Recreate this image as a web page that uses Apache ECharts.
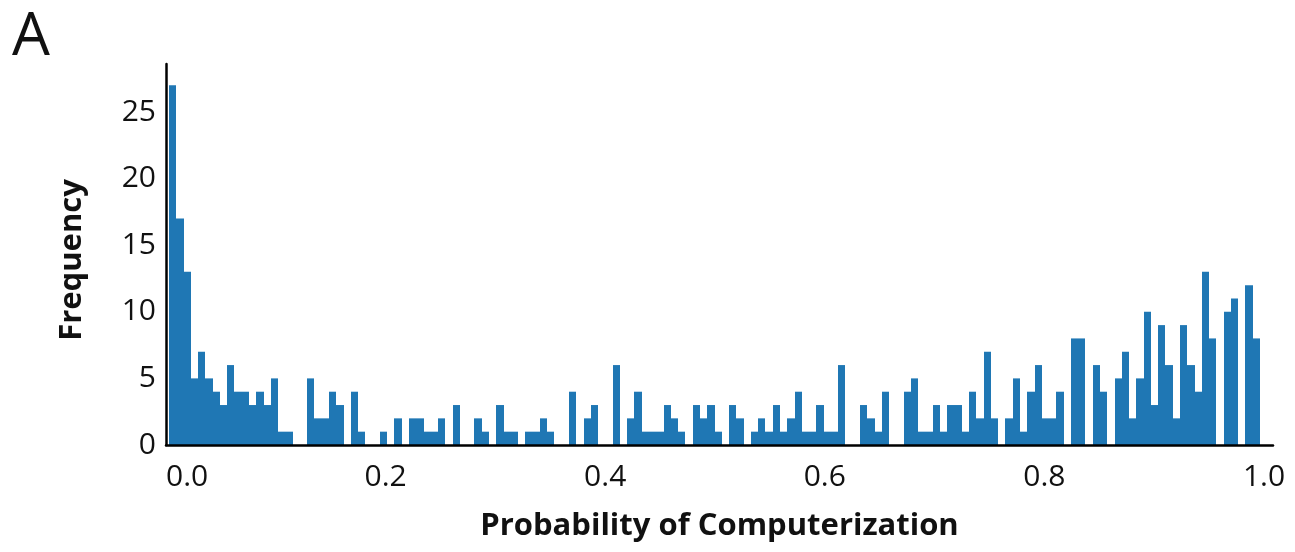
<!DOCTYPE html>
<html><head><meta charset="utf-8">
<script src="https://cdn.jsdelivr.net/npm/echarts@6/dist/echarts.min.js"></script>
<style>html,body{margin:0;padding:0;background:#fff}#c{width:1295px;height:552px}</style>
</head><body><div id="c"></div>
<script>
// Histogram: 150 equal bins between the lowest and highest probability
const binStart = 0.0027;
const binEnd = 0.9964;
const counts = [
  27, 17, 13, 5, 7, 5, 4, 3, 6, 4, 4, 3, 4, 3, 5, 1, 1, 0, 0, 5,
  2, 2, 4, 3, 0, 4, 1, 0, 0, 1, 0, 2, 0, 2, 2, 1, 1, 2, 0, 3,
  0, 0, 2, 1, 0, 3, 1, 1, 0, 1, 1, 2, 1, 0, 0, 4, 0, 2, 3, 0,
  0, 6, 0, 2, 4, 1, 1, 1, 3, 2, 1, 0, 3, 2, 3, 1, 0, 3, 2, 0,
  1, 2, 1, 3, 1, 2, 4, 1, 1, 3, 1, 1, 6, 0, 0, 3, 2, 1, 4, 0,
  0, 4, 5, 1, 1, 3, 1, 3, 3, 1, 4, 2, 7, 2, 0, 2, 5, 1, 4, 6,
  2, 2, 4, 0, 8, 8, 0, 6, 4, 0, 5, 7, 2, 5, 10, 3, 9, 6, 2, 9,
  6, 4, 13, 8, 0, 10, 11, 0, 12, 8
];
const xTickLabels = ['0.0', '0.2', '0.4', '0.6', '0.8', '1.0'];
const yTickLabels = ['0', '5', '10', '15', '20', '25'];
const xAxisTitle = 'Probability of Computerization';
const yAxisTitle = 'Frequency';
const panelLabel = 'A';

const binWidth = (binEnd - binStart) / counts.length;
const bins = counts.map((c, i) => [binStart + i * binWidth, binStart + (i + 1) * binWidth, c]);
const FONT = '"Open Sans", sans-serif';
const TXT = '#111';

const chart = echarts.init(document.getElementById('c'), null, {renderer: 'canvas'});
chart.setOption({
  animation: false,
  backgroundColor: '#fff',
  grid: {left: 166, right: 22, top: 64, bottom: 107},
  xAxis: {
    type: 'value', min: 0, max: 1.0082, interval: 0.2, z: 5,
    axisLine: {show: true, lineStyle: {color: '#000', width: 2.5}},
    axisTick: {show: false}, splitLine: {show: false},
    axisLabel: {
      fontFamily: FONT, fontSize: 30, color: TXT, margin: 17,
      showMaxLabel: false, alignMinLabel: 'left',
      formatter: (v) => xTickLabels[Math.round(v / 0.2)] || ''
    },
    name: xAxisTitle, nameLocation: 'middle', nameGap: 66,
    nameTextStyle: {fontFamily: FONT, fontSize: 31, fontWeight: 'bold', color: TXT}
  },
  yAxis: {
    type: 'value', min: 0, max: 28.6, interval: 5, z: 5,
    axisLine: {show: true, lineStyle: {color: '#000', width: 2.5}},
    axisTick: {show: false}, splitLine: {show: false},
    axisLabel: {
      fontFamily: FONT, fontSize: 30, color: TXT, margin: 10, showMaxLabel: false,
      formatter: (v) => yTickLabels[Math.round(v / 5)] || ''
    },
    name: yAxisTitle, nameLocation: 'middle', nameGap: 78,
    nameTextStyle: {fontFamily: FONT, fontSize: 31, fontWeight: 'bold', color: TXT, padding: [0, 11, 0, 0]}
  },
  series: [{
    type: 'custom', data: bins,
    encode: {x: [0, 1], y: 2},
    renderItem: (params, api) => {
      const p0 = api.coord([api.value(0), api.value(2)]);
      const p1 = api.coord([api.value(1), 0]);
      const x0 = Math.round(p0[0]), x1 = Math.round(p1[0]);
      return {
        type: 'rect',
        shape: {x: x0, y: p0[1], width: x1 - x0, height: p1[1] - p0[1]},
        style: {fill: '#1f77b4'}
      };
    }
  }],
  graphic: [{
    type: 'text', left: 12, top: 8,
    style: {text: panelLabel, font: '60px "Open Sans", sans-serif', fill: TXT}
  }]
});
</script></body></html>
